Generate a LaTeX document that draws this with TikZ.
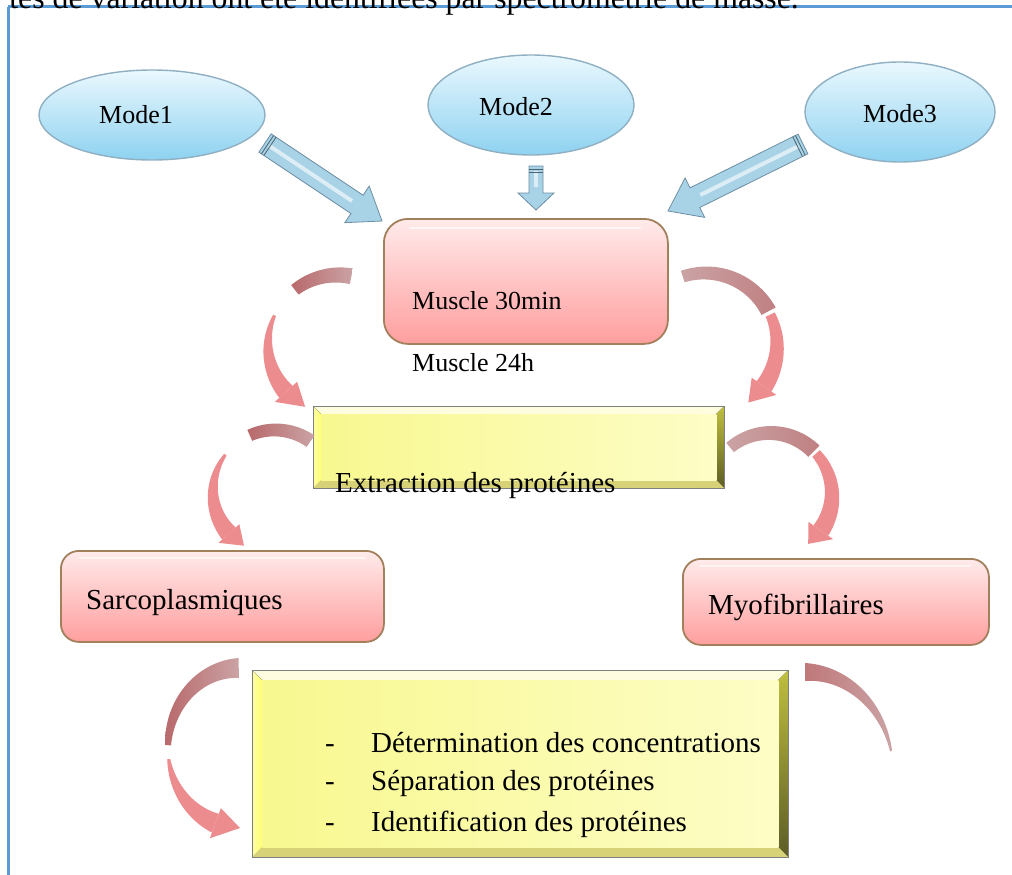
\documentclass[tikz,border=0pt]{standalone}
\usepackage{fontspec}
\setmainfont{Liberation Serif}
\usetikzlibrary{shapes.geometric,calc}
\definecolor{framebl}{HTML}{5B9BD5}
\definecolor{rosedk}{HTML}{B8696B}
\definecolor{rosegr}{HTML}{CBA3A5}
\definecolor{rosepk}{HTML}{EC8C8E}
\definecolor{arrfill}{HTML}{A8D2E6}
\definecolor{arredge}{HTML}{6E8FA3}
\definecolor{elltop}{HTML}{EAF8FE}
\definecolor{ellbot}{HTML}{8ED2F0}
\definecolor{elledge}{HTML}{8FAFC2}
\definecolor{yinL}{HTML}{F8F890}
\definecolor{yinR}{HTML}{FDFDC6}
\newcommand{\myfs}[1]{\fontsize{#1}{#1}\selectfont}
% curved tapered band: cx cy rx ry a1 a2 w1 w2 style
\newcommand{\cband}[9]{%
  \path[#9] plot[domain=#5:#6, samples=40, variable=\t]
    ({#1+(#3+((#7)+((#8)-(#7))*(\t-(#5))/((#6)-(#5)))/2)*cos(\t)},
     {#2+(#4+((#7)+((#8)-(#7))*(\t-(#5))/((#6)-(#5)))/2)*sin(\t)})
   -- plot[domain=#6:#5, samples=40, variable=\t]
    ({#1+(#3-((#7)+((#8)-(#7))*(\t-(#5))/((#6)-(#5)))/2)*cos(\t)},
     {#2+(#4-((#7)+((#8)-(#7))*(\t-(#5))/((#6)-(#5)))/2)*sin(\t)})
   -- cycle;}
% head: cx cy rx ry a a_tip W colour
\newcommand{\chead}[8]{%
  \fill[#8] ({#1+(#3+#7)*cos(#5)},{#2+(#4+#7)*sin(#5)})
    -- ({#1+#3*cos(#6)},{#2+#4*sin(#6)})
    -- ({#1+(#3-#7)*cos(#5)},{#2+(#4-#7)*sin(#5)}) -- cycle;}
% block arrow: tail, tip, shaft half, head half, head length
\newcommand{\barrow}[5]{%
  \coordinate (tmpH) at ($(#2)!#5!(#1)$);
  \filldraw[bluearr] ($(#1)!#3!90:(#2)$) -- ($(tmpH)!#3!90:(#2)$) -- ($(tmpH)!#4!90:(#2)$)
    -- (#2) -- ($(tmpH)!#4!-90:(#2)$) -- ($(tmpH)!#3!-90:(#2)$) -- ($(#1)!#3!-90:(#2)$) -- cycle;
  \draw[white, opacity=.6, line width=4pt] ($(#1)!5pt!(#2)$) -- ($(tmpH)!-6pt!(#2)$);
  \coordinate (tmpT) at ($(#1)!3pt!(#2)$);
  \draw[arredge!70!black, line width=.8pt] ($(tmpT)!#3!90:(#2)$) -- ($(tmpT)!#3!-90:(#2)$);
  \coordinate (tmpT) at ($(#1)!6pt!(#2)$);
  \draw[arredge!70!black, line width=.8pt] ($(tmpT)!#3!90:(#2)$) -- ($(tmpT)!#3!-90:(#2)$);}
% bevelled yellow box on a node
\newcommand{\bevel}[2]{%
  \coordinate (#1-ia) at ($(#1.north west)+(#2,#2)$);
  \coordinate (#1-ib) at ($(#1.north east)+(-#2,#2)$);
  \coordinate (#1-ic) at ($(#1.south east)+(-#2,-#2)$);
  \coordinate (#1-id) at ($(#1.south west)+(#2,-#2)$);
  \fill[yellow!12!white] (#1.north west) -- (#1.north east) -- (#1-ib) -- (#1-ia) -- cycle;
  \fill[left color=yellow!35!white, right color=yellow!55!white] (#1.north west) -- (#1-ia) -- (#1-id) -- (#1.south west) -- cycle;
  \fill[top color=yellow!50!gray, bottom color=yellow!30!black!70!gray] (#1.north east) -- (#1.south east) -- (#1-ic) -- (#1-ib) -- cycle;
  \fill[yellow!55!gray!80!white] (#1.south west) -- (#1.south east) -- (#1-ic) -- (#1-id) -- cycle;
  \fill[left color=yinL, right color=yinR] (#1-ia) rectangle (#1-ic);
  \draw[gray, line width=.8pt] (#1.north west) rectangle (#1.south east);}
\tikzset{
  modeell/.style={ellipse, top color=elltop, bottom color=ellbot,
     draw=elledge, line width=1.4pt, inner sep=0pt},
  bluearr/.style={fill=arrfill, draw=arredge, line width=.8pt, line join=miter},
  pinkbox/.style={rectangle, rounded corners=24pt, top color=red!8!white, bottom color=red!38!white,
     draw=brown!55!gray, line width=1.8pt, inner sep=0pt, anchor=north west},
  ybox/.style={rectangle, inner sep=0pt, anchor=north west},
  txt/.style={inner sep=0pt, anchor=base west, font=\myfs{29}},
  modetxt/.style={inner sep=0pt, anchor=base west, font=\myfs{26}},
}
\begin{document}
\begin{tikzpicture}[x=1pt, y=-1pt]
\useasboundingbox (0,0) rectangle (1012,875);
\clip (0,0) rectangle (1012,875);
\fill[white] (0,0) rectangle (1012,875);
% frame
\draw[framebl, line width=3pt] (8,7) -- (1012,7);
\draw[framebl, line width=3pt] (8,7) -- (8,875);
\node[inner sep=0pt, anchor=base east, font=\myfs{31.8}] (toptext) at (799,9)
  {tés de variation ont été identifiées par spectrométrie de masse.};
% ellipses
\node[modeell, minimum width=226pt, minimum height=90pt] (m1) at (152,115) {};
\node[modeell, minimum width=206pt, minimum height=100pt] (m2) at (531,105) {};
\node[modeell, minimum width=190pt, minimum height=100pt] (m3) at (900,112) {};
\node[modetxt] (m1t) at (99,123) {Mode1};
\node[modetxt] (m2t) at (479,115) {Mode2};
\node[modetxt] (m3t) at (863,122) {Mode3};
% boxes
\node[pinkbox, minimum width=284pt, minimum height=125pt] (mus) at (383,218) {};
\node[pinkbox, rounded corners=18pt, minimum width=323pt, minimum height=91pt] (sar) at (60,550) {};
\node[pinkbox, rounded corners=18pt, minimum width=306pt, minimum height=86pt] (myo) at (682,558) {};
\draw[white, opacity=.7, line width=2pt, line cap=round] (410,228) -- (640,228);
\draw[white, opacity=.6, line width=2pt, line cap=round] (80,558) -- (365,558);
\draw[white, opacity=.6, line width=2pt, line cap=round] (700,566) -- (970,566);
\node[ybox, minimum width=411pt, minimum height=82pt] (ext) at (313,406) {};
\bevel{ext}{8}
\node[ybox, minimum width=536pt, minimum height=187pt] (det) at (252,670) {};
\bevel{det}{10}
% texts
\node[txt, font=\myfs{26}] (must) at (412,309) {Muscle 30min};
\node[txt, font=\myfs{26}] (m24) at (412,371) {Muscle 24h};
\node[txt] (extt) at (335,492) {Extraction des protéines};
\node[txt] (sart) at (86,609) {Sarcoplasmiques};
\node[txt] (myot) at (708,614) {Myofibrillaires};
\node[txt] (d1) at (325,752) {-};
\node[txt] (l1) at (371,752) {Détermination des concentrations};
\node[txt] (d2) at (325,790) {-};
\node[txt] (l2) at (371,790) {Séparation des protéines};
\node[txt] (d3) at (325,831) {-};
\node[txt] (l3) at (371,831) {Identification des protéines};
% block arrows
\coordinate (a1s) at (265,143); \coordinate (a1e) at (382,221);
\coordinate (a2s) at (536,166); \coordinate (a2e) at (536,210);
\coordinate (a3s) at (803,144); \coordinate (a3e) at (668,211);
\barrow{a1s}{a1e}{11pt}{22pt}{30pt}
\barrow{a2s}{a2e}{7pt}{18pt}{17pt}
\barrow{a3s}{a3e}{11pt}{22pt}{30pt}
% curved arrows
% left top
\cband{338}{345}{70}{70}{-79}{-128}{16}{12}{left color=rosedk, right color=rosegr}
\cband{338}{345}{70}{70}{-155}{-222}{3}{18}{fill=rosepk}
\chead{338}{345}{70}{70}{-222}{-242}{15}{rosepk}
% right top
\cband{705}{345}{72}{72}{-108}{-28}{12}{16}{left color=rosegr, right color=rosedk!60!rosegr}
\cband{705}{345}{72}{72}{-25}{35}{10}{18}{fill=rosepk}
\chead{705}{345}{72}{72}{35}{53}{15}{rosepk}
% left middle
\cband{275}{492}{62}{62}{-55}{-114}{14}{12}{left color=rosedk, right color=rosegr}
\cband{275}{492}{62}{62}{-143}{-222}{3}{18}{fill=rosepk}
\chead{275}{492}{62}{62}{-222}{-240}{14}{rosepk}
% right middle
\cband{770}{495}{62}{62}{-130}{-45}{12}{16}{left color=rosegr, right color=rosedk!60!rosegr}
\cband{770}{495}{62}{62}{-42}{35}{10}{18}{fill=rosepk}
\chead{770}{495}{62}{62}{35}{52}{15}{rosepk}
% bottom left
\cband{240}{748}{72}{80}{-91}{-178}{20}{6}{left color=rosedk, right color=rosegr}
\cband{240}{748}{72}{80}{-188}{-250}{3}{20}{fill=rosepk}
\chead{240}{748}{72}{80}{-250}{-270}{16}{rosepk}
% bottom right
\cband{805}{772}{88}{100}{-90}{-12}{18}{2}{left color=rosedk!90!white, right color=rosegr}
\end{tikzpicture}
\end{document}
